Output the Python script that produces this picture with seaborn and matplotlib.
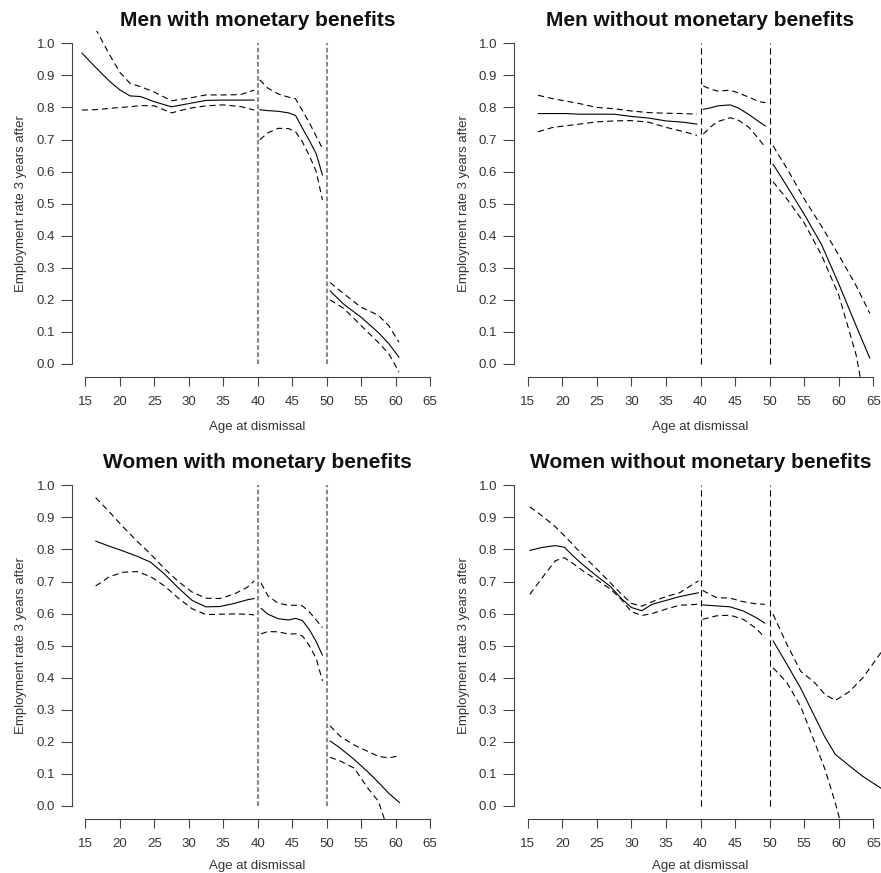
import numpy as np
import matplotlib
matplotlib.use("Agg")
import matplotlib.pyplot as plt
import seaborn as sns

# --- DATA ---
# Men with monetary benefits
mw_age1 = [14.5, 16.5, 18.5, 20, 21.5, 23, 25, 27.5, 30, 32.5, 35, 37.5, 39.5]
mw_est1 = [0.970, 0.925, 0.882, 0.855, 0.836, 0.834, 0.818, 0.802, 0.812, 0.822, 0.823, 0.823, 0.823]
mw_up1 = [1.13, 1.045, 0.965, 0.910, 0.875, 0.865, 0.848, 0.821, 0.829, 0.839, 0.839, 0.840, 0.854]
mw_lo1 = [0.792, 0.793, 0.797, 0.800, 0.802, 0.806, 0.805, 0.783, 0.797, 0.805, 0.808, 0.803, 0.792]
mw_age2 = [40.3, 41.5, 43, 44.5, 45.5, 46.5, 47.5, 48.5, 49.4]
mw_est2 = [0.793, 0.790, 0.788, 0.783, 0.775, 0.735, 0.697, 0.655, 0.589]
mw_up2 = [0.886, 0.860, 0.842, 0.832, 0.827, 0.790, 0.752, 0.710, 0.672]
mw_lo2 = [0.699, 0.721, 0.735, 0.734, 0.724, 0.692, 0.650, 0.600, 0.511]
mw_age3 = [50.5, 52.5, 55, 57.5, 59, 60.5]
mw_est3 = [0.228, 0.186, 0.146, 0.098, 0.064, 0.021]
mw_up3 = [0.254, 0.219, 0.177, 0.152, 0.120, 0.068]
mw_lo3 = [0.200, 0.173, 0.120, 0.067, 0.033, -0.025]

# Men without monetary benefits
mo_age1 = [16.5, 18.5, 20.5, 22.5, 25, 27.5, 30, 32.5, 35, 37.5, 39.5]
mo_est1 = [0.781, 0.781, 0.781, 0.779, 0.779, 0.779, 0.772, 0.767, 0.758, 0.754, 0.748]
mo_up1 = [0.838, 0.828, 0.820, 0.812, 0.800, 0.796, 0.789, 0.784, 0.782, 0.781, 0.779]
mo_lo1 = [0.724, 0.737, 0.743, 0.748, 0.755, 0.758, 0.759, 0.754, 0.738, 0.725, 0.713]
mo_age2 = [40.4, 41.5, 42.5, 44.3, 45.5, 47, 48.5, 49.4]
mo_est2 = [0.794, 0.799, 0.805, 0.808, 0.798, 0.778, 0.755, 0.742]
mo_up2 = [0.867, 0.857, 0.851, 0.854, 0.845, 0.832, 0.818, 0.815]
mo_lo2 = [0.717, 0.740, 0.756, 0.768, 0.760, 0.738, 0.700, 0.675]
mo_age3 = [50.5, 52.5, 55, 57.5, 60, 62.5, 64.5]
mo_est3 = [0.623, 0.555, 0.467, 0.373, 0.250, 0.120, 0.018]
mo_up3 = [0.680, 0.610, 0.515, 0.430, 0.340, 0.245, 0.158]
mo_lo3 = [0.568, 0.515, 0.440, 0.340, 0.215, 0.030, -0.200]

# Women with monetary benefits
ww_age1 = [16.5, 18.5, 20.5, 22.5, 24.5, 26.5, 28.5, 30.5, 32.5, 34.5, 36.5, 38.5, 39.5]
ww_est1 = [0.826, 0.810, 0.795, 0.779, 0.760, 0.723, 0.680, 0.641, 0.621, 0.622, 0.631, 0.643, 0.647]
ww_up1 = [0.962, 0.917, 0.870, 0.826, 0.785, 0.740, 0.700, 0.667, 0.648, 0.647, 0.660, 0.682, 0.702]
ww_lo1 = [0.686, 0.715, 0.729, 0.731, 0.715, 0.686, 0.648, 0.615, 0.597, 0.598, 0.599, 0.598, 0.596]
ww_age2 = [40.5, 41.5, 43, 44.5, 45.5, 46.5, 47.5, 48.5, 49.4]
ww_est2 = [0.616, 0.598, 0.584, 0.580, 0.585, 0.578, 0.550, 0.512, 0.470]
ww_up2 = [0.695, 0.655, 0.632, 0.626, 0.626, 0.624, 0.605, 0.580, 0.556]
ww_lo2 = [0.537, 0.544, 0.543, 0.536, 0.537, 0.530, 0.500, 0.460, 0.390]
ww_age3 = [50.5, 52, 54, 56, 57.5, 59, 60.6]
ww_est3 = [0.203, 0.180, 0.145, 0.106, 0.074, 0.040, 0.010]
ww_up3 = [0.250, 0.217, 0.190, 0.170, 0.155, 0.150, 0.157]
ww_lo3 = [0.152, 0.140, 0.118, 0.055, 0.015, -0.080, -0.200]

# Women without monetary benefits
wo_age1 = [15.3, 17, 19, 20.3, 21.5, 23, 25, 27, 28.5, 30, 31.5, 33, 35, 37, 39.7]
wo_est1 = [0.797, 0.806, 0.812, 0.807, 0.781, 0.752, 0.717, 0.684, 0.648, 0.619, 0.609, 0.629, 0.641, 0.653, 0.665]
wo_up1 = [0.933, 0.906, 0.871, 0.843, 0.816, 0.781, 0.739, 0.695, 0.662, 0.632, 0.623, 0.637, 0.653, 0.665, 0.702]
wo_lo1 = [0.660, 0.709, 0.765, 0.774, 0.757, 0.733, 0.705, 0.676, 0.645, 0.606, 0.594, 0.600, 0.614, 0.626, 0.629]
wo_age2 = [40.3, 42.3, 44.3, 46.2, 48.1, 49.3]
wo_est2 = [0.627, 0.624, 0.621, 0.608, 0.587, 0.570]
wo_up2 = [0.672, 0.650, 0.648, 0.637, 0.630, 0.629]
wo_lo2 = [0.582, 0.593, 0.595, 0.582, 0.553, 0.525]
wo_age3 = [50.5, 52.5, 54.5, 56.5, 58, 59.5, 61.5, 63.5, 66.5]
wo_est3 = [0.515, 0.442, 0.367, 0.280, 0.215, 0.161, 0.126, 0.092, 0.050]
wo_up3 = [0.598, 0.504, 0.420, 0.385, 0.348, 0.329, 0.356, 0.400, 0.490]
wo_lo3 = [0.431, 0.385, 0.310, 0.200, 0.115, 0.010, -0.150, -0.300, -0.500]

titles = ["Men with monetary benefits", "Men without monetary benefits",
          "Women with monetary benefits", "Women without monetary benefits"]
cutoffs = [40, 50]
x_ticks = np.arange(15, 66, 5)
y_ticks = np.round(np.arange(0, 1.01, 0.1), 1)

panels = [
    [(mw_age1, mw_est1, mw_up1, mw_lo1), (mw_age2, mw_est2, mw_up2, mw_lo2), (mw_age3, mw_est3, mw_up3, mw_lo3)],
    [(mo_age1, mo_est1, mo_up1, mo_lo1), (mo_age2, mo_est2, mo_up2, mo_lo2), (mo_age3, mo_est3, mo_up3, mo_lo3)],
    [(ww_age1, ww_est1, ww_up1, ww_lo1), (ww_age2, ww_est2, ww_up2, ww_lo2), (ww_age3, ww_est3, ww_up3, ww_lo3)],
    [(wo_age1, wo_est1, wo_up1, wo_lo1), (wo_age2, wo_est2, wo_up2, wo_lo2), (wo_age3, wo_est3, wo_up3, wo_lo3)],
]

# --- STYLE ---
sns.set_theme(style="ticks")
plt.rcParams['font.family'] = ['Liberation Sans', 'DejaVu Sans']
plt.rcParams.update({
    'axes.edgecolor': '#444444',
    'axes.linewidth': 0.8,
    'xtick.color': '#444444',
    'ytick.color': '#444444',
    'xtick.labelcolor': '#333333',
    'ytick.labelcolor': '#333333',
    'xtick.major.width': 0.8,
    'ytick.major.width': 0.8,
    'axes.labelcolor': '#333333',
})

W, H = 881, 873
fig = plt.figure(figsize=(W / 100, H / 100), dpi=100)

# plot regions in pixels: left, right, top, bottom
boxes = [(71.5, 443.8, 30.5, 376.8), (513.9, 887.1, 30.5, 376.8),
         (71.5, 443.8, 472.5, 818.8), (513.9, 887.1, 472.5, 818.8)]
dash = (0, (5.5, 3.5))

for i, (box, segs) in enumerate(zip(boxes, panels)):
    l, r, t, b = box
    ax = fig.add_axes([l / W, 1 - b / H, (r - l) / W, (b - t) / H])
    for age, est, up, lo in segs:
        sns.lineplot(x=age, y=est, ax=ax, color='black', lw=0.8)
        sns.lineplot(x=age, y=up, ax=ax, color='black', lw=0.8, linestyle=dash)
        sns.lineplot(x=age, y=lo, ax=ax, color='black', lw=0.8, linestyle=dash)
    if i % 2 == 0:
        ax.vlines(cutoffs, 0, 1, colors='#888888', lw=1.5, linestyles=[(0, (2.2, 1.2))])
    else:
        ax.vlines(cutoffs, 0, 1, colors='black', lw=0.8, linestyles=[(0, (5.5, 3.5))])

    ax.set_xlim(13, 67)
    ax.set_ylim(-0.04, 1.04)
    ax.set_xticks(x_ticks)
    ax.set_yticks(y_ticks)
    ax.set_yticklabels([f"{v:.1f}" for v in y_ticks])
    ax.tick_params(axis='both', labelsize=9.5)
    ax.tick_params(axis='y', length=7.7, pad=4.2)
    ax.tick_params(axis='x', length=6.5, pad=7)
    ax.spines['top'].set_visible(False)
    ax.spines['right'].set_visible(False)
    ax.spines['left'].set_bounds(0, 1)
    ax.spines['bottom'].set_bounds(15, 65)
    # bottom row sits against the lower edge, keep its label inside
    ax.set_xlabel("Age at dismissal", fontsize=9.5, labelpad=10 if i < 2 else 7.5)
    ax.set_ylabel("Employment rate 3 years after", fontsize=9.5, labelpad=6.5)
    ax.set_title(titles[i], fontsize=15, fontweight='bold', pad=3, color='#111111')
    ax.patch.set_alpha(0)

fig.savefig("out.png", dpi=100)
